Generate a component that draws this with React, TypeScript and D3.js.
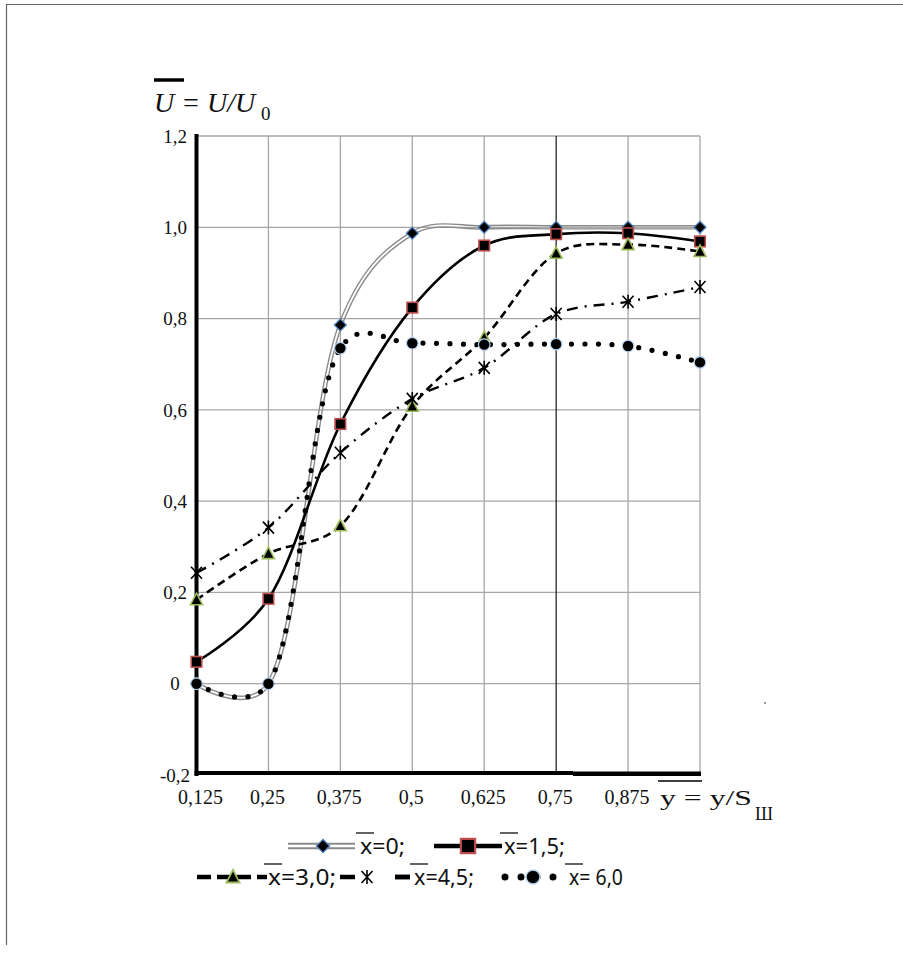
import React from "react";
import * as d3 from "d3";

// ---- data ----
const xVals = [0.125, 0.25, 0.375, 0.5, 0.625, 0.75, 0.875, 1.0];
const xTickLabels = ["0,125", "0,25", "0,375", "0,5", "0,625", "0,75", "0,875"];
const yTicks = [-0.2, 0, 0.2, 0.4, 0.6, 0.8, 1.0, 1.2];
const yTickLabels = ["-0,2", "0", "0,2", "0,4", "0,6", "0,8", "1,0", "1,2"];
const serX0 = [0, 0, 0.786, 0.987, 1.0, 1.0, 1.0, 1.0];
const serX15 = [0.048, 0.186, 0.569, 0.824, 0.96, 0.985, 0.987, 0.969];
const serX30 = [0.184, 0.285, 0.346, 0.608, 0.758, 0.943, 0.962, 0.947];
const serX45 = [0.243, 0.342, 0.506, 0.624, 0.692, 0.81, 0.837, 0.869];
const serX60 = [0, 0, 0.735, 0.746, 0.743, 0.744, 0.74, 0.704];
const seriesLabels = ["x=0;", "x=1,5;", "x=3,0;", "x=4,5;", "x= 6,0"];

const W = 903;
const H = 963;
const x = d3.scaleLinear().domain([0.125, 1.0]).range([196.5, 700]);
const y = d3.scaleLinear().domain([-0.2, 1.2]).range([775, 136]);

const line = d3
  .line<[number, number]>()
  .x((d) => x(d[0]))
  .y((d) => y(d[1]))
  .curve(d3.curveCatmullRom.alpha(0.25));

const pts = (vals: number[]) => vals.map((v, i) => [xVals[i], v] as [number, number]);

type MarkerKind = "diamond" | "square" | "triangle" | "star" | "circle";

function Marker({ kind, cx, cy, s = 1 }: { kind: MarkerKind; cx: number; cy: number; s?: number }) {
  const t = `translate(${cx},${cy}) scale(${s})`;
  if (kind === "diamond")
    return <path transform={t} d="M0,-6L6,0L0,6L-6,0Z" fill="#000" stroke="#4f81bd" strokeWidth={1.2} />;
  if (kind === "square")
    return <rect transform={t} x={-5.3} y={-5.3} width={10.6} height={10.6} fill="#000" stroke="#c0504d" strokeWidth={1.6} />;
  if (kind === "triangle")
    return <path transform={t} d="M0,-6.5L6,5L-6,5Z" fill="#000" stroke="#9bbb59" strokeWidth={1.6} />;
  if (kind === "star")
    return (
      <path
        transform={t}
        d="M-5.5,-6L5.5,6M-5.5,6L5.5,-6M0,-7L0,7"
        fill="none"
        stroke="#000"
        strokeWidth={1.6}
      />
    );
  return <circle transform={t} r={5.8} fill="#000" stroke="#b9d3ee" strokeWidth={1.2} />;
}

const serifFont = "'Liberation Serif', 'Times New Roman', serif";
const sansFont = "'Noto Sans', 'Liberation Sans', sans-serif";

export default function App() {
  const d0 = line(pts(serX0)) || "";
  const d15 = line(pts(serX15)) || "";
  const d30 = line(pts(serX30)) || "";
  const d45 = line(pts(serX45)) || "";
  const d60 = line(pts(serX60)) || "";

  const gridColor = "#a6a6a6";

  // legend layout
  const row1 = 846;
  const row2 = 877;

  const legendText = (tx: number, ty: number, label: string, len: number) => (
    <g>
      <line x1={tx - 4} x2={tx + 14} y1={ty - 21} y2={ty - 21} stroke="#222" strokeWidth={1.4} />
      <text
        x={tx}
        y={ty}
        fontFamily={sansFont}
        fontSize={22}
        fill="#111"
        textLength={len}
        lengthAdjust="spacingAndGlyphs"
        style={{ whiteSpace: "pre" }}
      >
        {label}
      </text>
    </g>
  );

  return (
    <svg
      width={W}
      height={H}
      style={{ position: "absolute", left: 0, top: 0, background: "#fff" }}
    >
      <defs>
        <mask id="dblmask" maskUnits="userSpaceOnUse" x={0} y={0} width={W} height={H}>
          <rect x={0} y={0} width={W} height={H} fill="#fff" />
          <path d={d0} fill="none" stroke="#000" strokeWidth={1.8} />
        </mask>
        <mask id="dblmaskLeg" maskUnits="userSpaceOnUse" x={0} y={0} width={W} height={H}>
          <rect x={0} y={0} width={W} height={H} fill="#fff" />
          <line x1={288} x2={355} y1={row1} y2={row1} stroke="#000" strokeWidth={2.6} />
        </mask>
      </defs>

      {/* outer frame */}
      <line x1={6} x2={W} y1={4.5} y2={4.5} stroke="#666" strokeWidth={1.2} />
      <line x1={6.5} x2={6.5} y1={4} y2={945} stroke="#666" strokeWidth={1.2} />

      {/* horizontal gridlines */}
      {yTicks
        .filter((v) => v > -0.2)
        .map((v) => (
          <line key={"h" + v} x1={x(0.125)} x2={x(1.0)} y1={y(v)} y2={y(v)} stroke={gridColor} strokeWidth={1.3} />
        ))}
      {/* vertical gridlines */}
      {xVals
        .filter((v) => v > 0.125)
        .map((v) => (
          <line
            key={"v" + v}
            x1={x(v)}
            x2={x(v)}
            y1={y(1.2)}
            y2={y(-0.2)}
            stroke={v === 0.75 ? "#000" : gridColor}
            strokeWidth={v === 0.75 ? 1.1 : 1.3}
          />
        ))}

      {/* axes */}
      <line x1={x(0.125)} x2={x(0.125)} y1={y(1.2) - 2} y2={y(-0.2) + 1} stroke="#000" strokeWidth={4} />
      <line x1={x(0.125) - 2} x2={573} y1={y(-0.2) - 2} y2={y(-0.2) - 2} stroke="#000" strokeWidth={4} />
      <line x1={573} x2={x(1.0) + 1} y1={y(-0.2) - 1.2} y2={y(-0.2) - 1.2} stroke="#000" strokeWidth={4.6} />

      {/* y tick labels */}
      {yTicks.map((v, i) => (
        <text
          key={"yl" + v}
          x={175}
          y={y(v)}
          dy="0.35em"
          textAnchor="middle"
          fontFamily={serifFont}
          fontSize={19}
          fill="#111"
        >
          {yTickLabels[i]}
        </text>
      ))}
      {/* x tick labels */}
      {xTickLabels.map((lab, i) => (
        <text
          key={"xl" + lab}
          x={x(xVals[i]) + (i === 0 ? 4 : -1)}
          y={804}
          textAnchor="middle"
          fontFamily={serifFont}
          fontSize={20}
          fill="#111"
        >
          {lab}
        </text>
      ))}

      {/* axis titles */}
      <line x1={154} x2={184} y1={80} y2={80} stroke="#000" strokeWidth={3.5} />
      <text x={154} y={112} fontFamily={serifFont} fontStyle="italic" fontSize={28} fill="#111" style={{ whiteSpace: "pre" }}>
        U = U/U
      </text>
      <text x={261} y={120} fontFamily={serifFont} fontSize={19} fill="#111">
        0
      </text>

      <line x1={658} x2={702} y1={781} y2={781} stroke="#000" strokeWidth={1.5} />
      <text
        x={660}
        y={805}
        fontFamily={serifFont}
        fontSize={22}
        fill="#111"
        textLength={92}
        lengthAdjust="spacingAndGlyphs"
        style={{ whiteSpace: "pre" }}
      >
        y = y/S
      </text>
      <text x={755} y={820} fontFamily={serifFont} fontSize={18} fill="#111" textLength={18} lengthAdjust="spacingAndGlyphs">
        Ш
      </text>

      {/* series x=0: double line */}
      <path d={d0} fill="none" stroke="#8a8a8a" strokeWidth={4.6} mask="url(#dblmask)" />
      {/* x=1.5 */}
      <path d={d15} fill="none" stroke="#000" strokeWidth={2.6} />
      {/* x=3.0 */}
      <path d={d30} fill="none" stroke="#000" strokeWidth={2.6} strokeDasharray="8 5" />
      {/* x=4.5 */}
      <path d={d45} fill="none" stroke="#000" strokeWidth={2.4} strokeDasharray="11 7 2 7" />

      {serX0.map((v, i) => (
        <Marker key={"m0" + i} kind="diamond" cx={x(xVals[i])} cy={y(v)} />
      ))}
      {serX15.map((v, i) => (
        <Marker key={"m1" + i} kind="square" cx={x(xVals[i])} cy={y(v)} />
      ))}
      {serX30.map((v, i) => (
        <Marker key={"m3" + i} kind="triangle" cx={x(xVals[i])} cy={y(v)} />
      ))}
      {serX45.map((v, i) => (
        <Marker key={"m4" + i} kind="star" cx={x(xVals[i])} cy={y(v)} />
      ))}
      {/* x=6.0 dotted */}
      <path d={d60} fill="none" stroke="#000" strokeWidth={5.2} strokeDasharray="0 13.5" strokeLinecap="round" />
      {serX60.map((v, i) => (
        <Marker key={"m6" + i} kind="circle" cx={x(xVals[i])} cy={y(v)} />
      ))}

      {/* stray dot */}
      <rect x={764} y={702} width={2} height={2} fill="#999" />

      {/* legend row 1 */}
      <line x1={288} x2={355} y1={row1} y2={row1} stroke="#8a8a8a" strokeWidth={6.5} mask="url(#dblmaskLeg)" />
      <Marker kind="diamond" cx={323} cy={row1} s={1.1} />
      {legendText(360, row1 + 8, seriesLabels[0], 45)}

      <line x1={434} x2={502} y1={row1} y2={row1} stroke="#000" strokeWidth={4.5} />
      <Marker kind="square" cx={468} cy={row1} s={1.35} />
      {legendText(504, row1 + 8, seriesLabels[1], 61)}

      {/* legend row 2 */}
      <line x1={197} x2={267} y1={row2} y2={row2} stroke="#000" strokeWidth={4.5} strokeDasharray="14 6" />
      <Marker kind="triangle" cx={233} cy={row2} s={1.1} />
      {legendText(268, row2 + 8, seriesLabels[2], 68)}

      <line x1={340} x2={412} y1={row2} y2={row2} stroke="#000" strokeWidth={4.5} strokeDasharray="15 40" />
      <line x1={395} x2={410} y1={row2} y2={row2} stroke="#000" strokeWidth={4.5} />
      <Marker kind="star" cx={367} cy={row2} s={1.0} />
      {legendText(414, row2 + 8, seriesLabels[3], 60)}

      <line x1={505} x2={561} y1={row2} y2={row2} stroke="#000" strokeWidth={7} strokeDasharray="0 16" strokeLinecap="round" />
      <Marker kind="circle" cx={533} cy={row2} s={1.2} />
      {legendText(569, row2 + 8, seriesLabels[4], 54)}
    </svg>
  );
}
